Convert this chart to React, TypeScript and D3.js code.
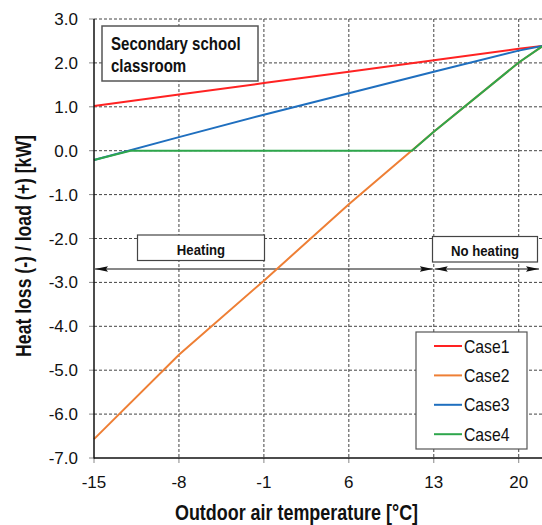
import * as d3 from "d3";
import { useEffect, useRef } from "react";

// temperatures where values were read
const temps = [-15, -8, -1, 6, 13, 20, 22];
const case1 = [1.02, 1.28, 1.54, 1.8, 2.06, 2.32, 2.39];
const case2 = [-6.57, -4.65, -2.96, -1.22, 0.43, 2.01, 2.39];
const case3 = [-0.21, 0.31, 0.82, 1.31, 1.8, 2.28, 2.39];
// case4 has its own break points
const case4Temps = [-15, -12, 11.2, 13, 20, 22];
const case4 = [-0.21, 0, 0, 0.43, 2.01, 2.39];

const seriesNames = ["Case1", "Case2", "Case3", "Case4"];
const seriesColors = ["#ff2222", "#ee7f35", "#1f6fbf", "#2ea64c"];

const xTicks = [-15, -8, -1, 6, 13, 20];
const yTicks = [3, 2, 1, 0, -1, -2, -3, -4, -5, -6, -7];

// heating ranges in degrees
const heatingRange = [-15, 13];
const noHeatingRange = [13, 22];

const FONT = "'Liberation Sans', Arial, sans-serif";

const App = () => {
  const svgRef = useRef<SVGSVGElement>(null);

  const W = 542;
  const H = 525;
  const margin = { top: 19, right: -1, bottom: 67, left: 94 };

  useEffect(() => {
    const svg = d3.select(svgRef.current);
    svg.selectAll("*").remove();

    const x = d3.scaleLinear().domain([-15, 22]).range([margin.left, W - margin.right]);
    const y = d3.scaleLinear().domain([-7, 3]).range([H - margin.bottom, margin.top]);

    const x0 = x.range()[0];
    const x1 = x.range()[1];
    const y0 = y.range()[0];
    const y1 = y.range()[1];

    // narrow text: regular font squeezed horizontally
    const narrowText = (parent, tx, ty, str, size, opts: any = {}) => {
      const t = parent.append("text")
        .attr("transform", `translate(${tx},${ty})${opts.rotate ? ` rotate(${opts.rotate})` : ""} scale(${opts.sx || 0.83},1)`)
        .attr("text-anchor", opts.anchor || "start")
        .style("font-family", FONT)
        .style("font-size", `${size}px`)
        .style("font-weight", opts.bold ? "bold" : "normal")
        .style("fill", "#111")
        .text(str);
      return t;
    };

    // gridlines
    const grid = svg.append("g");
    grid.selectAll(".hg")
      .data(yTicks.filter(d => d !== -7))
      .enter()
      .append("line")
      .attr("x1", x0)
      .attr("x2", x1)
      .attr("y1", d => y(d))
      .attr("y2", d => y(d))
      .attr("stroke", "#444")
      .attr("stroke-width", 1)
      .attr("stroke-dasharray", "3,2");
    grid.selectAll(".vg")
      .data(xTicks.filter(d => d !== -15))
      .enter()
      .append("line")
      .attr("x1", d => x(d))
      .attr("x2", d => x(d))
      .attr("y1", y1)
      .attr("y2", y0)
      .attr("stroke", "#444")
      .attr("stroke-width", 1)
      .attr("stroke-dasharray", "3,2");

    // tick marks
    svg.selectAll(".yt")
      .data(yTicks)
      .enter()
      .append("line")
      .attr("x1", x0 - 5)
      .attr("x2", x0)
      .attr("y1", d => y(d))
      .attr("y2", d => y(d))
      .attr("stroke", "#888")
      .attr("stroke-width", 1);
    svg.selectAll(".xt")
      .data(xTicks)
      .enter()
      .append("line")
      .attr("x1", d => x(d))
      .attr("x2", d => x(d))
      .attr("y1", y0)
      .attr("y2", y0 + 5)
      .attr("stroke", "#888")
      .attr("stroke-width", 1);

    // tick labels
    svg.selectAll(".yl")
      .data(yTicks)
      .enter()
      .append("text")
      .attr("x", x0 - 16)
      .attr("y", d => y(d) + 6)
      .attr("text-anchor", "end")
      .style("font-family", FONT)
      .style("font-size", "17px")
      .style("fill", "#111")
      .text(d => d3.format(".1f")(d).replace("−", "-"));
    svg.selectAll(".xl")
      .data(xTicks)
      .enter()
      .append("text")
      .attr("x", d => x(d))
      .attr("y", y0 + 30)
      .attr("text-anchor", "middle")
      .style("font-family", FONT)
      .style("font-size", "17px")
      .style("fill", "#111")
      .text(d => String(d));

    // axis titles
    narrowText(svg, 296.5, 520, "Outdoor air temperature [°C]", 21.5, { anchor: "middle", bold: true, sx: 0.834 });
    narrowText(svg, 30.5, 246, "Heat loss (-) / load (+) [kW]", 21.5, { anchor: "middle", bold: true, sx: 0.82, rotate: -90 });

    // heating annotations
    const marker = svg.append("defs").append("marker")
      .attr("id", "arrowhead")
      .attr("viewBox", "0 0 13 8")
      .attr("refX", 13)
      .attr("refY", 4)
      .attr("markerWidth", 13)
      .attr("markerHeight", 8)
      .attr("markerUnits", "userSpaceOnUse")
      .attr("orient", "auto-start-reverse");
    marker.append("path").attr("d", "M0,1.2 L13,4 L0,6.8 L2,4 Z").attr("fill", "#111");

    const arrowY = 269;
    [heatingRange, noHeatingRange].forEach(r => {
      svg.append("line")
        .attr("x1", x(r[0]) + 1)
        .attr("x2", r[1] === 22 ? x(r[1]) - 4 : x(r[1]) - 1)
        .attr("y1", arrowY)
        .attr("y2", arrowY)
        .attr("stroke", "#111")
        .attr("stroke-width", 1)
        .attr("marker-start", "url(#arrowhead)")
        .attr("marker-end", "url(#arrowhead)");
    });

    const boxes = [
      { label: "Heating", x: 137.5, y: 235, w: 127, h: 25.5 },
      { label: "No heating", x: 432.5, y: 236.5, w: 105, h: 25.5 },
    ];
    boxes.forEach(b => {
      svg.append("rect")
        .attr("x", b.x)
        .attr("y", b.y)
        .attr("width", b.w)
        .attr("height", b.h)
        .attr("fill", "#fff")
        .attr("stroke", "#444")
        .attr("stroke-width", 1.2);
      narrowText(svg, b.x + b.w / 2, b.y + 19.5, b.label, 15.5, { anchor: "middle", bold: true, sx: 0.85 });
    });

    // series lines
    const line = d3.line<[number, number]>()
      .x(d => x(d[0]))
      .y(d => y(d[1]));

    const series: [number, number][][] = [
      temps.map((t, i) => [t, case1[i]] as [number, number]),
      temps.map((t, i) => [t, case2[i]] as [number, number]),
      temps.map((t, i) => [t, case3[i]] as [number, number]),
      case4Temps.map((t, i) => [t, case4[i]] as [number, number]),
    ];
    series.forEach((s, i) => {
      svg.append("path")
        .attr("d", line(s))
        .attr("fill", "none")
        .attr("stroke", seriesColors[i])
        .attr("stroke-width", 2);
    });

    // axis lines
    svg.append("line")
      .attr("x1", x0).attr("x2", x0)
      .attr("y1", y1).attr("y2", y0 + 0.5)
      .attr("stroke", "#111").attr("stroke-width", 1.5);
    svg.append("line")
      .attr("x1", x0).attr("x2", x1)
      .attr("y1", y0).attr("y2", y0)
      .attr("stroke", "#111").attr("stroke-width", 1.5);

    // title box
    svg.append("rect")
      .attr("x", 102)
      .attr("y", 26)
      .attr("width", 156)
      .attr("height", 55)
      .attr("fill", "#fff")
      .attr("stroke", "#555")
      .attr("stroke-width", 1.5);
    narrowText(svg, 111, 50, "Secondary school", 17.5, { bold: true, sx: 0.86 });
    narrowText(svg, 111, 72, "classroom", 17.5, { bold: true, sx: 0.86 });

    // legend
    const lg = svg.append("g");
    lg.append("rect")
      .attr("x", 416)
      .attr("y", 332)
      .attr("width", 111)
      .attr("height", 117)
      .attr("fill", "#fff")
      .attr("stroke", "#555")
      .attr("stroke-width", 1.2);
    seriesNames.forEach((name, i) => {
      const ly = 346 + i * 29.4;
      lg.append("line")
        .attr("x1", 434)
        .attr("x2", 462)
        .attr("y1", ly)
        .attr("y2", ly)
        .attr("stroke", seriesColors[i])
        .attr("stroke-width", 2);
      narrowText(lg, 464, ly + 6.5, name, 17.5, { sx: 0.9 });
    });
  }, []);

  return (
    <svg
      ref={svgRef}
      width={W}
      height={H}
      style={{ position: "absolute", left: 0, top: 0, background: "#fff" }}
    />
  );
};

export default App;
